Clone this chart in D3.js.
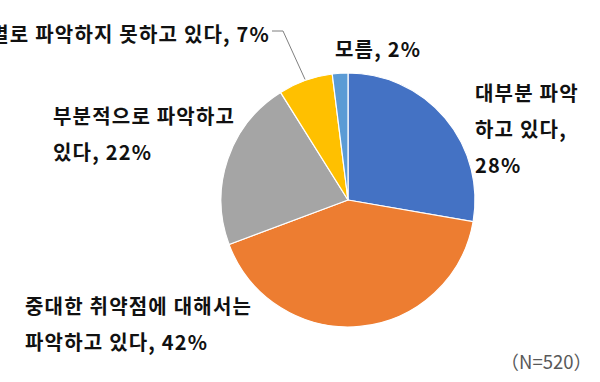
<!DOCTYPE html>
<html><head><meta charset="utf-8">
<script src="https://cdn.jsdelivr.net/npm/d3@7"></script>
<style>
html,body{margin:0;padding:0;background:#fff;}
svg{display:block;}
</style></head>
<body>
<svg id="chart" width="600" height="382"></svg>
<script>
// ---- data ----
const categories = ["대부분 파악하고 있다", "중대한 취약점에 대해서는 파악하고 있다", "부분적으로 파악하고 있다", "별로 파악하지 못하고 있다", "모름"];
const values = [28, 42, 22, 7, 2];
const labelLines = [
  ["대부분 파악", "하고 있다,", "{v}%"],
  ["중대한 취약점에 대해서는", "파악하고 있다, {v}%"],
  ["부분적으로 파악하고", "있다, {v}%"],
  ["별로 파악하지 못하고 있다, {v}%"],
  ["모름, {v}%"]
];
const colors = ["#4472C4", "#ED7D31", "#A5A5A5", "#FFC000", "#5B9BD5"];
const note = "（N=520）";

// ---- layout ----
const cx = 348, cy = 200, R = 127;
const labelLayout = [
  {x: 475, y: 92, anchor: "start"},
  {x: 25, y: 305, anchor: "start"},
  {x: 53, y: 115, anchor: "start"},
  {x: 270, y: 33, anchor: "end"},
  {x: 335, y: 48, anchor: "start"}
];
const lineGap = 36;

const svg = d3.select("#chart");
const g = svg.append("g").attr("transform", `translate(${cx},${cy})`);

const pie = d3.pie().sort(null).value(d => d)(values);
const arc = d3.arc().innerRadius(0).outerRadius(R);

g.selectAll("path.slice").data(pie).join("path")
  .attr("class", "slice")
  .attr("d", arc)
  .attr("fill", (d, i) => colors[i])
  .attr("stroke", "#fff")
  .attr("stroke-width", 1.2);

// leader line for the small yellow slice
const yd = pie[3];
const mid = (yd.startAngle + yd.endAngle) / 2;
const px = Math.sin(mid) * (R + 1), py = -Math.cos(mid) * (R + 1);
const lp = labelLayout[3];
svg.append("polyline")
  .attr("points", [[lp.x + 2, lp.y - 2], [lp.x + 13, lp.y - 2], [cx + px, cy + py]].map(p => p.join(",")).join(" "))
  .attr("fill", "none")
  .attr("stroke", "#7F7F7F")
  .attr("stroke-width", 1);

// labels
const font = "'Noto Sans CJK KR', 'Noto Sans', sans-serif";
labelLines.forEach((lines, i) => {
  const L = labelLayout[i];
  const t = svg.append("text")
    .attr("x", L.x).attr("y", L.y)
    .attr("text-anchor", L.anchor)
    .attr("font-family", font)
    .attr("font-size", 20)
    .attr("font-weight", "bold")
    .attr("letter-spacing", "1.2px")
    .attr("fill", "#111");
  lines.forEach((s, k) => {
    t.append("tspan")
      .attr("x", L.x)
      .attr("y", L.y + k * lineGap)
      .attr("dominant-baseline", "central")
      .text(s.replace("{v}", values[i]));
  });
});

svg.append("text")
  .attr("x", 592).attr("y", 361)
  .attr("text-anchor", "end")
  .attr("dominant-baseline", "central")
  .attr("font-family", font)
  .attr("font-size", 18.5)
  .attr("fill", "#595959")
  .text(note);
</script>
</body></html>
